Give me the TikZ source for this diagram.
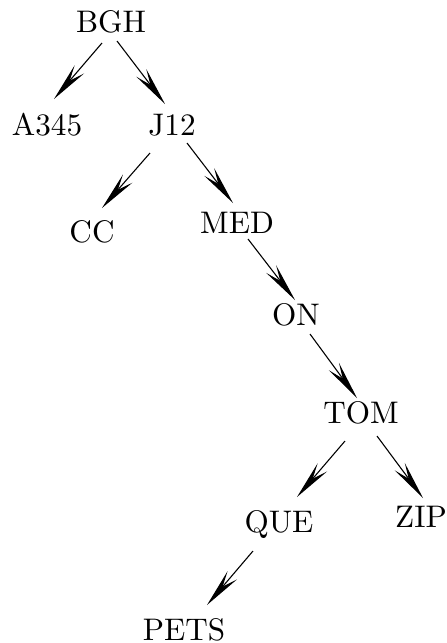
\documentclass[tikz,border=0pt]{standalone}
\usepackage{tikz}
\usetikzlibrary{arrows.meta}

\tikzset{
  word/.style={anchor=base, inner sep=0pt},
  arr/.style={-{Stealth[length=12.5pt, width=4pt, inset=4.8pt]}, line width=0.35pt}
}

\begin{document}
\begin{tikzpicture}[x=0.3205pt, y=-0.3205pt]
      \useasboundingbox (0,0) rectangle (446,643);

      \node[word] (bgh)  at (111,32)  {BGH};
      \node[word] (a345) at (47,135)  {A345};
      \node[word] (j12)  at (172,135) {J12};
      \node[word] (cc)   at (92,242)  {CC};
      \node[word] (med)  at (237,233) {MED};
      \node[word] (on)   at (296,325) {ON};
      \node[word] (tom)  at (361,423) {TOM};
      \node[word] (que)  at (279,532) {QUE};
      \node[word] (zip)  at (421,527) {ZIP};
      \node[word] (pets) at (184,640) {PETS};

      \draw[arr] ([shift={(-9,11)}]bgh.base)  -- ([shift={(7,-36)}]a345.base);
      \draw[arr] ([shift={(6,9)}]bgh.base)    -- ([shift={(-7,-31)}]j12.base);
      \draw[arr] ([shift={(-22,18)}]j12.base) -- ([shift={(10,-34)}]cc.base);
      \draw[arr] ([shift={(15,8)}]j12.base)   -- ([shift={(-4,-30)}]med.base);
      \draw[arr] ([shift={(11,6)}]med.base)   -- ([shift={(-1,-25)}]on.base);
      \draw[arr] ([shift={(14,9)}]on.base)    -- ([shift={(-4,-25)}]tom.base);
      \draw[arr] ([shift={(-16,18)}]tom.base) -- ([shift={(18,-35)}]que.base);
      \draw[arr] ([shift={(16,13)}]tom.base)  -- ([shift={(2,-29)}]zip.base);
      \draw[arr] ([shift={(-26,19)}]que.base) -- ([shift={(23,-35)}]pets.base);

    \end{tikzpicture}
\end{document}
